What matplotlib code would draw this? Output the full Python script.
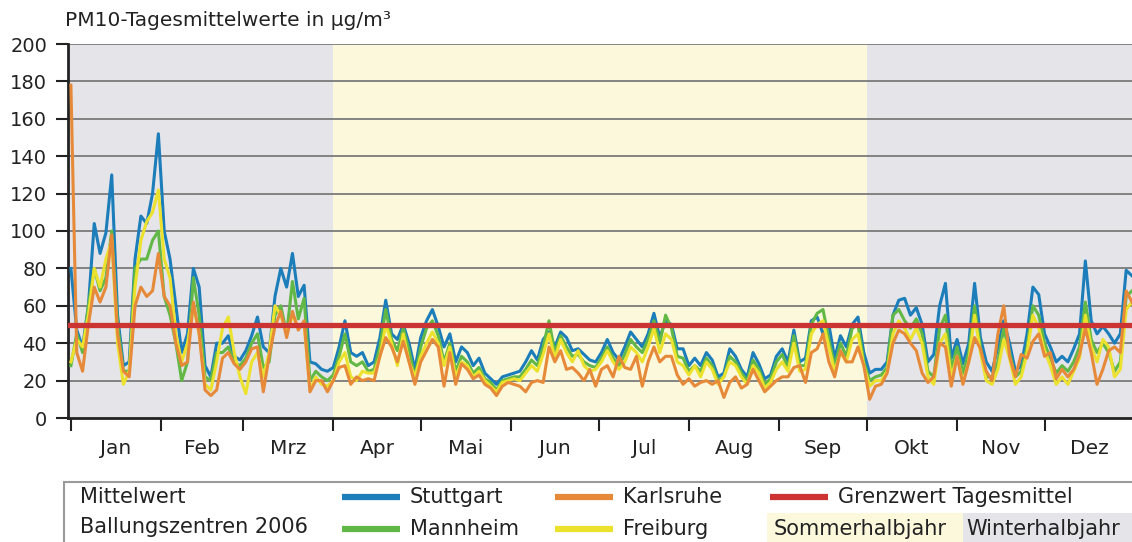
import numpy as np
import matplotlib.pyplot as plt
from matplotlib.lines import Line2D
from matplotlib.patches import Rectangle

plt.rcParams['font.family'] = ['DejaVu Sans']

# PM10 daily means 2006, read every second day (day 0, 2, 4, ... 364)
day_step = 2

stuttgart = [
    80, 47, 38, 60, 104, 88, 99, 130, 55, 28, 30, 85, 108, 104, 120, 152, 100, 85, 60, 35, 45, 80, 70, 28, 22, 40,
    40, 44, 33, 31, 36, 44, 54, 38, 35, 65, 80, 70, 88, 65, 71, 30, 29, 26, 25, 27, 38, 52, 35, 33, 35,
    28, 30, 43, 63, 45, 42, 50, 40, 26, 43, 52, 58, 49, 38, 45, 30, 38, 35, 28, 32, 24, 21, 18, 22, 23, 24,
    25, 30, 36, 31, 42, 46, 38, 46, 43, 36, 37, 34, 31, 30, 35, 42, 35, 31, 38, 46, 42, 38, 45, 56, 43, 52,
    50, 37, 37, 28, 32, 28, 35, 31, 22, 24, 37, 33, 26, 22, 35, 29, 21, 23, 33, 37, 30, 47, 30, 32, 52, 54,
    45, 50, 32, 44, 38, 50, 54, 35, 24, 26, 26, 30, 55, 63, 64, 55, 59, 50, 30, 34, 60, 72, 32, 42, 29, 40, 72,
    43, 30, 25, 38, 52, 40, 25, 28, 45, 70, 66, 45, 38, 30, 33, 30, 37, 45, 84, 52, 45, 49, 45, 40, 45, 79, 76,
]
mannheim = [
    28, 45, 35, 60, 80, 68, 75, 100, 50, 25, 25, 80, 85, 85, 95, 100, 65, 55, 40, 20, 30, 75, 55, 22, 20, 35,
    35, 38, 30, 28, 32, 40, 45, 27, 30, 55, 60, 45, 73, 53, 64, 20, 25, 22, 20, 23, 33, 45, 30, 28, 30,
    25, 26, 38, 58, 42, 36, 48, 36, 22, 38, 48, 52, 44, 30, 40, 25, 33, 30, 24, 27, 21, 19, 15, 20, 21, 22,
    22, 26, 31, 28, 38, 52, 35, 44, 38, 33, 34, 30, 28, 27, 32, 38, 32, 28, 34, 42, 38, 35, 42, 52, 40, 55,
    48, 33, 32, 25, 28, 25, 32, 28, 20, 22, 33, 30, 24, 20, 31, 26, 18, 21, 30, 34, 27, 44, 28, 28, 50, 56,
    58, 42, 28, 40, 33, 48, 50, 30, 20, 22, 23, 27, 55, 58, 52, 48, 53, 45, 25, 22, 48, 55, 26, 38, 24, 35, 60,
    38, 22, 22, 30, 48, 35, 22, 25, 38, 60, 55, 40, 32, 24, 28, 25, 30, 38, 62, 42, 35, 40, 35, 25, 30, 65, 68,
]
freiburg = [
    30, 42, 38, 55, 80, 70, 85, 95, 40, 18, 25, 70, 95, 105, 110, 122, 85, 75, 45, 30, 40, 60, 45, 18, 15, 30,
    48, 54, 35, 22, 13, 30, 35, 22, 35, 60, 55, 45, 55, 48, 50, 15, 22, 18, 17, 20, 30, 35, 22, 20, 25,
    24, 24, 33, 50, 40, 28, 45, 30, 22, 33, 40, 46, 40, 28, 38, 22, 30, 28, 22, 25, 20, 17, 14, 19, 20, 21,
    20, 24, 28, 25, 34, 45, 32, 42, 35, 30, 36, 28, 25, 26, 30, 36, 30, 26, 30, 38, 35, 30, 38, 48, 35, 45,
    42, 30, 28, 23, 28, 22, 30, 26, 18, 22, 30, 28, 22, 18, 28, 24, 16, 19, 26, 30, 25, 40, 25, 26, 45, 50,
    52, 38, 25, 35, 30, 42, 45, 28, 17, 20, 20, 25, 45, 52, 48, 42, 48, 40, 22, 18, 40, 45, 22, 33, 19, 30, 55,
    35, 20, 18, 26, 42, 32, 18, 22, 35, 55, 48, 36, 28, 18, 22, 18, 25, 32, 55, 38, 30, 42, 38, 22, 26, 58, 62,
]
karlsruhe = [
    178, 35, 25, 50, 70, 62, 70, 98, 45, 25, 22, 60, 70, 65, 68, 88, 65, 60, 40, 28, 30, 62, 45, 15, 12, 15,
    32, 35, 29, 26, 30, 37, 38, 14, 33, 49, 57, 43, 57, 47, 52, 14, 20, 20, 14, 20, 27, 28, 18, 22, 20,
    21, 20, 33, 43, 38, 30, 41, 30, 18, 30, 36, 42, 38, 17, 35, 18, 29, 26, 21, 23, 18, 16, 12, 17, 19, 18,
    17, 14, 19, 20, 19, 38, 30, 36, 26, 27, 24, 20, 26, 17, 26, 28, 22, 33, 27, 26, 33, 17, 30, 38, 30, 33,
    33, 23, 18, 21, 17, 19, 20, 18, 20, 11, 19, 22, 16, 18, 26, 20, 14, 17, 20, 22, 22, 27, 28, 19, 35, 37,
    45, 30, 22, 36, 30, 30, 38, 28, 10, 17, 18, 24, 40, 47, 45, 40, 36, 24, 19, 22, 40, 38, 17, 33, 18, 30, 43,
    37, 25, 20, 45, 60, 33, 22, 34, 32, 41, 45, 33, 35, 21, 26, 22, 26, 34, 48, 35, 18, 26, 36, 38, 35, 68, 62,
]
grenzwert = 50

months = ["Jan", "Feb", "Mrz", "Apr", "Mai", "Jun", "Jul", "Aug", "Sep", "Okt", "Nov", "Dez"]
month_len = [31, 28, 31, 30, 31, 30, 31, 31, 30, 31, 30, 31]

W, H = 1132, 542


def fx(x):
    return x / W


def fy(y):
    return 1 - y / H


c_blue = "#1b7db9"
c_green = "#62b846"
c_yellow = "#ece22e"
c_orange = "#e68a3a"
c_red = "#cc3333"
c_winter = "#e4e4e9"
c_summer = "#fbf8dc"
c_text = "#222222"

days = np.arange(0, 365, day_step)
month_start = np.concatenate([[0], np.cumsum(month_len)])
month_mid = month_start[:-1] + np.array(month_len) / 2

fig = plt.figure(figsize=(W / 100, H / 100), dpi=100)
ax = fig.add_axes([fx(68), fy(418), fx(1132) - fx(68), fy(44) - fy(418)])

ax.axvspan(-1, month_start[3], color=c_winter, lw=0, zorder=0.5)
ax.axvspan(month_start[3], month_start[9], color=c_summer, lw=0, zorder=0.5)
ax.axvspan(month_start[9], 366, color=c_winter, lw=0, zorder=0.5)

for v in range(20, 201, 20):
    ax.axhline(v, color="#7a7a7a", lw=1.3, zorder=1)

ax.plot(days, stuttgart, color=c_blue, lw=2.2, zorder=3)
ax.plot(days, mannheim, color=c_green, lw=2.2, zorder=3)
ax.plot(days, freiburg, color=c_yellow, lw=2.2, zorder=3)
ax.plot(days, karlsruhe, color=c_orange, lw=2.2, zorder=3)
ax.axhline(grenzwert, color=c_red, lw=3.8, zorder=4)

ax.set_xlim(-1, 364)
ax.set_ylim(0, 200)
ax.set_yticks(range(0, 201, 20))
ax.tick_params(axis="y", length=9, width=1.5, labelsize=14, pad=6, colors=c_text)
ax.set_xticks(month_start[:-1])
ax.set_xticklabels([])
ax.set_xticks(month_mid, minor=True)
ax.set_xticklabels(months, minor=True)
ax.tick_params(axis="x", which="major", length=9, width=1.5, direction="out", colors=c_text)
ax.tick_params(axis="x", which="minor", length=0, labelsize=14.5, pad=15, colors=c_text)
for s in ["top", "right"]:
    ax.spines[s].set_visible(False)
for s in ["left", "bottom"]:
    ax.spines[s].set_linewidth(2)
    ax.spines[s].set_color(c_text)

fig.text(fx(65), fy(20), "PM10-Tagesmittelwerte in µg/m³", fontsize=14.5, va="center", color=c_text)

# legend box
fig.add_artist(Rectangle((fx(64), fy(545)), fx(1145) - fx(64), fy(482) - fy(545),
                         transform=fig.transFigure, facecolor="white", edgecolor="#9a9a9a", lw=1.5))
fig.add_artist(Rectangle((fx(767), fy(545)), fx(963) - fx(767), fy(513) - fy(545),
                         transform=fig.transFigure, facecolor=c_summer, lw=0))
fig.add_artist(Rectangle((fx(963), fy(545)), fx(1135) - fx(963), fy(513) - fy(545),
                         transform=fig.transFigure, facecolor=c_winter, lw=0))

txt = dict(fontsize=15, va="center", color=c_text)
fig.text(fx(80), fy(497), "Mittelwert", **txt)
fig.text(fx(80), fy(527), "Ballungszentren 2006", **txt)

entries = [
    (342, 497, c_blue, "Stuttgart"),
    (342, 529, c_green, "Mannheim"),
    (555, 497, c_orange, "Karlsruhe"),
    (555, 529, c_yellow, "Freiburg"),
    (770, 497, c_red, "Grenzwert Tagesmittel"),
]
for x0, y0, col, lab in entries:
    fig.add_artist(Line2D([fx(x0), fx(x0 + 58)], [fy(y0), fy(y0)], transform=fig.transFigure,
                          color=col, lw=4.5, solid_capstyle="butt"))
    fig.text(fx(x0 + 68), fy(y0), lab, **txt)

fig.text(fx(774), fy(529), "Sommerhalbjahr", **txt)
fig.text(fx(966), fy(529), "Winterhalbjahr", **txt)

fig.savefig("out.png", dpi=100)
